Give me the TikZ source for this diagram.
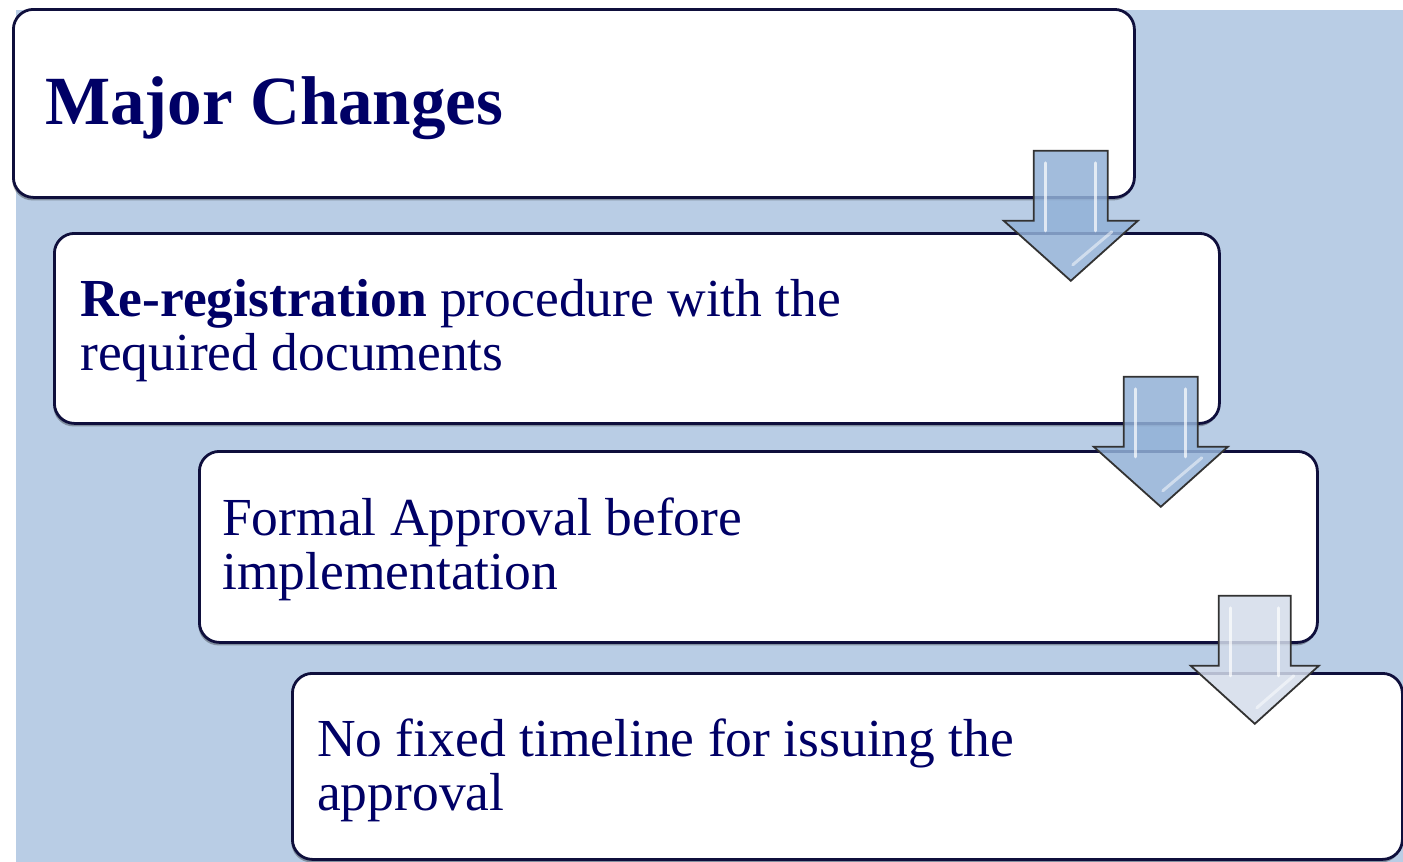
\documentclass[tikz,border=0pt]{standalone}
\usepackage{fontspec}
\setmainfont{Liberation Serif}
\usetikzlibrary{shadows}
\definecolor{bgblue}{RGB}{185,205,229}
\definecolor{navytext}{RGB}{0,0,102}
\definecolor{boxline}{RGB}{15,15,60}
\definecolor{arrowblue}{RGB}{146,177,215}
\definecolor{arrowpale}{RGB}{212,220,234}
\definecolor{arrowline}{RGB}{50,50,50}
\tikzset{stagebox/.style={draw=boxline, line width=2.8pt, fill=white, rounded corners=20pt,
           anchor=north west, inner sep=0pt,
           drop shadow={shadow xshift=-1pt, shadow yshift=-3pt, opacity=0.3, fill=black}},
         stagetext/.style={anchor=base west, inner sep=0pt, text=navytext, align=left,
           font=\fontsize{53.5}{54}\selectfont},
         flowarrow/.style={draw=arrowline, line width=1.8pt, line join=miter, fill=#1, fill opacity=0.85},
         gloss/.style={white, line width=3pt, opacity=0.7, line cap=round}}

\begin{document}
\begin{tikzpicture}[x=1pt,y=-1pt]
   \useasboundingbox (0,0) rectangle (1403,862);
   \fill[bgblue] (16,10) rectangle (1403,862);
   % the four stages
   \node[stagebox, minimum width=1121pt, minimum height=188pt] (box1) at (12,8) {};
   \node[stagebox, minimum width=1165pt, minimum height=190pt] (box2) at (53,232) {};
   \node[stagebox, minimum width=1118pt, minimum height=191pt] (box3) at (198,450) {};
   \node[stagebox, minimum width=1110pt, minimum height=186pt] (box4) at (291,672) {};
   % base of a two-line node is its last line
   \node[stagetext, font=\bfseries\fontsize{69}{74}\selectfont] (major) at (45,124) {Major Changes};
   \node[stagetext] (rereg) at (80,370) {\textbf{Re-registration} procedure with the\\required documents};
   \node[stagetext] (approval) at (222,589) {Formal Approval before\\implementation};
   \node[stagetext] (timeline) at (317,810) {No fixed timeline for issuing the\\approval};
   % arrows between the stages
   \begin{scope}[shift={(box1.south east)}]
    \draw[flowarrow=arrowblue] (-102,-48) -- (-28,-48) -- (-28,22) -- (2,22) -- (-65,82) -- (-132,22) -- (-102,22) -- cycle;
    \draw[gloss] (-90,-36) -- (-90,32);
    \draw[gloss] (-40,-36) -- (-40,32);
    \draw[gloss, opacity=0.5] (-63,66) -- (-24,33);
   \end{scope}
   \begin{scope}[shift={(box2.south east)}]
    \draw[flowarrow=arrowblue] (-97,-48) -- (-23,-48) -- (-23,22) -- (7,22) -- (-60,82) -- (-127,22) -- (-97,22) -- cycle;
    \draw[gloss] (-85,-36) -- (-85,32);
    \draw[gloss] (-35,-36) -- (-35,32);
    \draw[gloss, opacity=0.5] (-58,66) -- (-19,33);
   \end{scope}
   \begin{scope}[shift={(box3.south east)}]
    \draw[flowarrow=arrowpale] (-100,-48) -- (-28,-48) -- (-28,22) -- (0,22) -- (-64,80) -- (-128,22) -- (-100,22) -- cycle;
    \draw[gloss] (-88,-36) -- (-88,32);
    \draw[gloss] (-40,-36) -- (-40,32);
    \draw[gloss, opacity=0.5] (-62,64) -- (-25,32);
   \end{scope}
\end{tikzpicture}
\end{document}
